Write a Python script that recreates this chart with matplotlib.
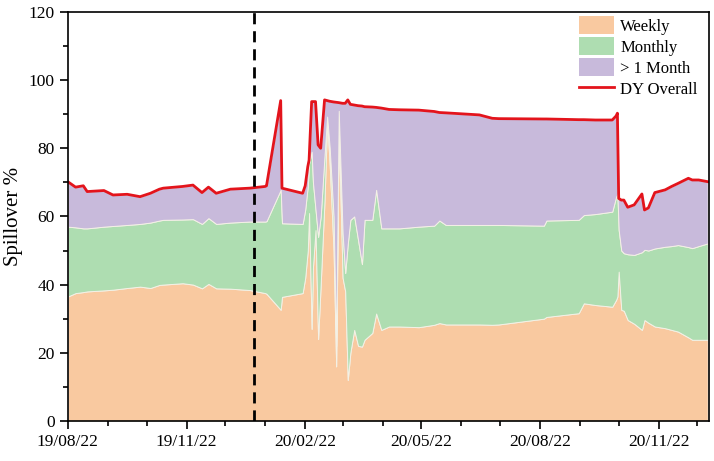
import numpy as np
import pandas as pd
import matplotlib
matplotlib.use("Agg")
import matplotlib.pyplot as plt
import matplotlib.dates as mdates
from matplotlib.patches import Patch
from matplotlib.lines import Line2D

plt.rcParams['font.family'] = ['Liberation Serif', 'DejaVu Serif']

# dates (approx)
dates = pd.to_datetime([
    "2019-08-22", "2019-08-28", "2019-09-03", "2019-09-06", "2019-09-19", "2019-09-26",
    "2019-10-07", "2019-10-17", "2019-10-25", "2019-11-01", "2019-11-04", "2019-11-19",
    "2019-11-27", "2019-12-04", "2019-12-09", "2019-12-15", "2019-12-26", "2020-01-10",
    "2020-01-22", "2020-01-23", "2020-02-03", "2020-02-04", "2020-02-20", "2020-02-22",
    "2020-02-24", "2020-02-25", "2020-02-27", "2020-02-28", "2020-03-01", "2020-03-03",
    "2020-03-05", "2020-03-08", "2020-03-10", "2020-03-12", "2020-03-15", "2020-03-17",
    "2020-03-19", "2020-03-22", "2020-03-24", "2020-03-26", "2020-03-28", "2020-03-31",
    "2020-04-03", "2020-04-06", "2020-04-08", "2020-04-14", "2020-04-17", "2020-04-21",
    "2020-04-27", "2020-05-05", "2020-05-20", "2020-06-01", "2020-06-05", "2020-06-10",
    "2020-07-06", "2020-07-16", "2020-07-21", "2020-08-25", "2020-08-27", "2020-09-21",
    "2020-09-25", "2020-10-04", "2020-10-17", "2020-10-20", "2020-10-21", "2020-10-22",
    "2020-10-24", "2020-10-26", "2020-10-29", "2020-11-03", "2020-11-09", "2020-11-11",
    "2020-11-14", "2020-11-19", "2020-11-27", "2020-12-02", "2020-12-07", "2020-12-15",
    "2020-12-18", "2020-12-23", "2020-12-30",
])

weekly = [
    36.5, 37.5, 37.8, 38.0, 38.3, 38.5,
    39.0, 39.4, 39.0, 39.9, 40.0, 40.4,
    40.0, 38.9, 40.2, 38.9, 38.8, 38.4,
    37.5, 37.3, 32.6, 36.4, 37.5, 42.0,
    50.0, 61.0, 27.0, 45.0, 56.0, 24.0,
    40.0, 65.0, 88.0, 75.0, 50.0, 16.0,
    85.0, 42.0, 38.0, 12.0, 20.0, 26.7,
    22.0, 21.8, 23.8, 25.8, 31.5, 26.7,
    27.7, 27.7, 27.5, 28.2, 28.7, 28.3,
    28.3, 28.2, 28.3, 30.0, 30.5, 31.6,
    34.5, 34.0, 33.5, 35.5, 36.5, 43.8,
    32.6, 32.3, 29.6, 28.5, 26.7, 29.6,
    28.8, 27.7, 27.2, 26.7, 26.2, 24.5,
    23.8, 23.8, 23.8,
]

# top of the green band (weekly + monthly)
weekly_monthly = [
    57.0, 56.8, 56.5, 56.5, 57.0, 57.2,
    57.5, 57.8, 58.2, 58.8, 59.0, 59.1,
    59.2, 57.8, 59.5, 57.8, 58.2, 58.5,
    58.5, 58.6, 67.8, 58.0, 57.8, 62.0,
    69.0, 75.5, 79.0, 70.0, 62.0, 54.0,
    60.0, 78.0, 89.3, 80.0, 60.0, 22.0,
    91.0, 55.0, 43.4, 52.0, 59.0, 60.0,
    53.0, 46.0, 59.0, 59.0, 67.8, 56.5,
    56.5, 56.5, 57.0, 57.3, 58.8, 57.5,
    57.5, 57.5, 57.5, 57.3, 58.8, 59.0,
    60.4, 60.7, 61.4, 65.8, 66.5, 56.0,
    50.0, 49.2, 48.9, 48.7, 49.5, 50.2,
    50.0, 50.6, 51.1, 51.3, 51.6, 51.0,
    50.7, 51.3, 52.1,
]

dy_overall = [
    70.2, 68.6, 69.0, 67.3, 67.6, 66.3,
    66.5, 65.8, 66.8, 68.0, 68.3, 68.8,
    69.2, 67.0, 68.6, 66.8, 68.0, 68.3,
    68.8, 69.0, 94.0, 68.3, 66.8, 69.0,
    74.6, 76.5, 93.7, 93.7, 93.7, 81.0,
    80.0, 94.2, 94.0, 93.8, 93.6, 93.5,
    93.4, 93.2, 93.2, 94.2, 92.9, 92.7,
    92.5, 92.4, 92.2, 92.1, 92.0, 91.8,
    91.4, 91.3, 91.2, 90.8, 90.5, 90.4,
    89.8, 88.8, 88.7, 88.6, 88.6, 88.4,
    88.4, 88.3, 88.3, 89.5, 90.3, 65.3,
    64.8, 64.8, 62.7, 63.4, 66.6, 61.9,
    62.5, 67.0, 67.8, 68.8, 69.7, 71.2,
    70.7, 70.7, 70.2,
]

break_date = pd.Timestamp("2020-01-13")

w = np.array(weekly)
m = np.array(weekly_monthly) - w
longer = np.array(dy_overall) - np.array(weekly_monthly)

c_week = "#F9C9A0"
c_month = "#AEDDB1"
c_long = "#C8BADB"
c_red = "#E3141C"

fig = plt.figure(figsize=(7.14, 4.61), dpi=100)
ax = fig.add_axes([0.095, 0.087, 0.898, 0.887])

ax.stackplot(dates, w, m, longer, colors=[c_week, c_month, c_long],
             edgecolor="#F4F1E6", linewidth=0.7)
ax.plot(dates, dy_overall, color=c_red, lw=2)
ax.axvline(break_date, color="black", lw=2, ls=(0, (4, 2.5)))

ax.set_ylim(0, 120)
ax.set_xlim(pd.Timestamp("2019-08-22"), pd.Timestamp("2020-12-31"))
ax.set_yticks(np.arange(0, 121, 20))
ax.set_yticks(np.arange(10, 120, 20), minor=True)
ax.xaxis.set_major_locator(mdates.MonthLocator(bymonth=[2, 5, 8, 11], bymonthday=22))
ax.xaxis.set_minor_locator(mdates.MonthLocator(bymonthday=22))
ax.xaxis.set_major_formatter(mdates.DateFormatter("%y/%m/%d"))
ax.tick_params(which="major", length=6, width=1.2, labelsize=12.5, direction="out")
ax.tick_params(which="minor", length=3.5, width=1.2, direction="out")
for s in ax.spines.values():
    s.set_linewidth(1.2)
ax.set_ylabel("Spillover %", fontsize=15)

handles = [Patch(facecolor=c_week, label="Weekly"),
           Patch(facecolor=c_month, label="Monthly"),
           Patch(facecolor=c_long, label="> 1 Month"),
           Line2D([0], [0], color=c_red, lw=2, label="DY Overall")]
ax.legend(handles=handles, loc="upper right", bbox_to_anchor=(0.998, 1.015),
          frameon=False, fontsize=12, handlelength=2.1, handleheight=1.3,
          labelspacing=0.15, handletextpad=0.4, borderaxespad=0.2)

fig.savefig("out.png", dpi=100)
